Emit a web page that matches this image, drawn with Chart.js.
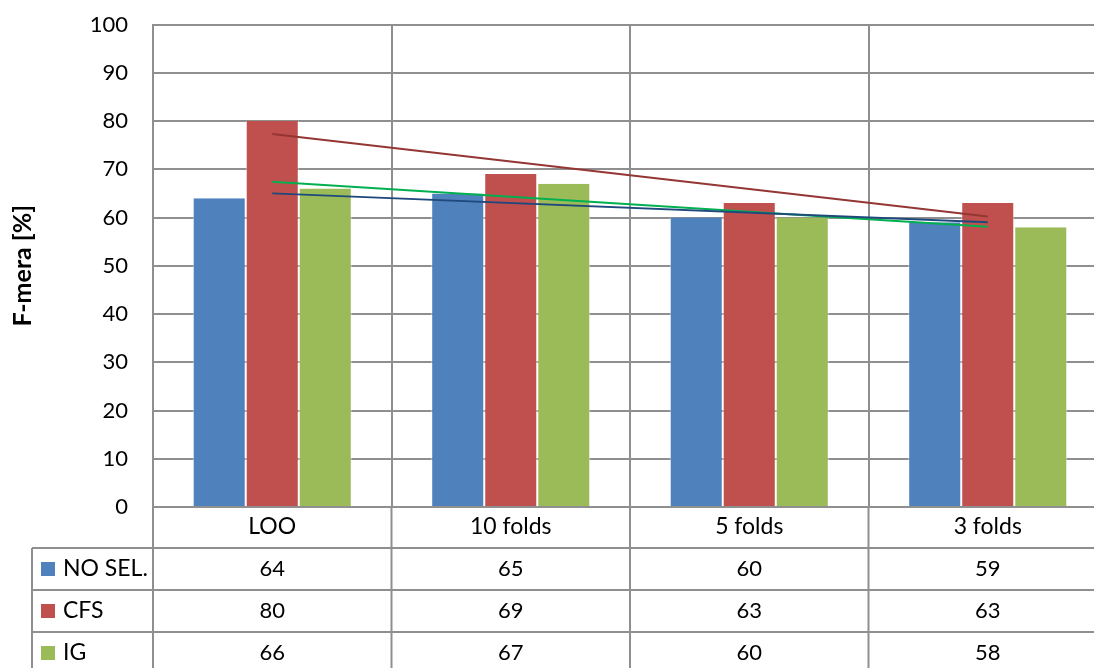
<!DOCTYPE html>
<html>
<head>
<meta charset="utf-8">
<script src="https://cdn.jsdelivr.net/npm/chart.js@4"></script>
<style>
  html, body { margin: 0; padding: 0; background: #fff; overflow: hidden; }
  #wrap { position: absolute; left: 0; top: 0; width: 1110px; height: 680px; }
</style>
</head>
<body>
<div id="wrap"><canvas id="chart" width="1110" height="680"></canvas></div>
<script>
// kategorier och värden
const categories = ["LOO", "10 folds", "5 folds", "3 folds"];
const seriesNames = ["NO SEL.", "CFS", "IG"];
const noSel = [64, 65, 60, 59];
const cfs = [80, 69, 63, 63];
const ig = [66, 67, 60, 58];
// trendlinjer, ändpunkter
const noSelTrend = [65, null, null, 59];
const cfsTrend = [77.3, null, null, 60.2];
const igTrend = [67.4, null, null, 58.1];
const yTicks = [0, 10, 20, 30, 40, 50, 60, 70, 80, 90, 100];

const barColors = ["#4F81BD", "#C0504D", "#9BBB59"];
const trendColors = ["#1F497D", "#943634", "#00B050"];
const gridColor = "#8f8f8f";
const font = "Lato";
const fontSize = 22;
const wordSize = 23;

const ctx = document.querySelector("#chart").getContext("2d");

// ritar datatabellen under diagrammet
const tablePlugin = {
  id: "dataTable",
  afterDraw(chart) {
    const c = chart.ctx;
    const x = chart.scales.x;
    const area = chart.chartArea;
    const rowH = 42;
    const headTop = area.bottom;
    const firstRow = headTop + 41;
    const bottom = firstRow + rowH * 3 + 10;
    const half = (x.getPixelForValue(1) - x.getPixelForValue(0)) / 2;
    const rows = [noSel, cfs, ig];

    c.save();
    c.strokeStyle = gridColor;
    c.lineWidth = 2;
    c.beginPath();
    // vänster axel ända ner
    c.moveTo(area.left, area.top);
    c.lineTo(area.left, bottom);
    // tabellens vänsterkant
    c.moveTo(32, firstRow);
    c.lineTo(32, bottom);
    // kategorilinjer
    categories.forEach((cat, i) => {
      const r = x.getPixelForValue(i) + half;
      c.moveTo(r, headTop);
      c.lineTo(r, bottom);
    });
    // horisontella linjer
    for (let k = 0; k < 3; k++) {
      const y = firstRow + rowH * k;
      c.moveTo(32, y);
      c.lineTo(area.right, y);
    }
    c.stroke();

    c.textBaseline = "middle";
    rows.forEach((vals, k) => {
      const cy = firstRow + rowH * k + rowH / 2;
      c.fillStyle = barColors[k];
      c.fillRect(41, cy - 7, 14, 14);
      c.fillStyle = "#000";
      c.textAlign = "left";
      c.font = wordSize + "px " + font;
      c.fillText(seriesNames[k], 63, cy);
      c.textAlign = "center";
      c.font = fontSize + "px " + font;
      vals.forEach((v, i) => c.fillText(String(v), x.getPixelForValue(i), cy));
    });
    c.restore();
  },
};

const barSet = (label, data, i) => ({
  type: "bar",
  label: label,
  data: data,
  backgroundColor: barColors[i],
  borderColor: "rgba(255,255,255,0.55)",
  borderWidth: { left: 1, right: 1, top: 0, bottom: 0 },
  borderSkipped: false,
  categoryPercentage: 0.667,
  barPercentage: 1,
  order: 2,
});

const trendSet = (label, data, i) => ({
  type: "line",
  label: label,
  data: data,
  borderColor: trendColors[i],
  borderWidth: 2,
  pointRadius: 0,
  spanGaps: true,
  fill: false,
  order: 1,
});

new Chart(ctx, {
  data: {
    labels: categories,
    datasets: [
      barSet("NO SEL.", noSel, 0),
      barSet("CFS", cfs, 1),
      barSet("IG", ig, 2),
      trendSet("NO SEL. trend", noSelTrend, 0),
      trendSet("CFS trend", cfsTrend, 1),
      trendSet("IG trend", igTrend, 2),
    ],
  },
  options: {
    responsive: false,
    animation: false,
    devicePixelRatio: 1,
    layout: { padding: { top: 24.5, right: 3, left: 0, bottom: 0 } },
    plugins: { legend: { display: false }, tooltip: { enabled: false } },
    scales: {
      x: {
        grid: { color: gridColor, lineWidth: 2, drawTicks: false, offset: true },
        border: { color: gridColor, width: 2 },
        ticks: { color: "#000", font: { family: font, size: wordSize }, padding: 6 },
        afterFit: (s) => {
          s.height = 173;
          s.paddingLeft = 0;
          s.paddingRight = 0;
        },
      },
      y: {
        min: 0,
        max: 100,
        afterBuildTicks: (s) => { s.ticks = yTicks.map((v) => ({ value: v })); },
        grid: { color: gridColor, lineWidth: 2, drawTicks: false },
        border: { color: gridColor, width: 2 },
        ticks: { color: "#000", font: { family: font, size: fontSize }, padding: 25 },
        title: {
          display: true,
          text: "F-mera [%]",
          color: "#000",
          font: { family: font, size: 25, weight: 700 },
          padding: { top: 8, bottom: 0 },
        },
        afterFit: (s) => {
          s.width = 153;
          s.paddingTop = 0;
          s.paddingBottom = 0;
        },
      },
    },
  },
  plugins: [tablePlugin],
});
</script>
</body>
</html>
